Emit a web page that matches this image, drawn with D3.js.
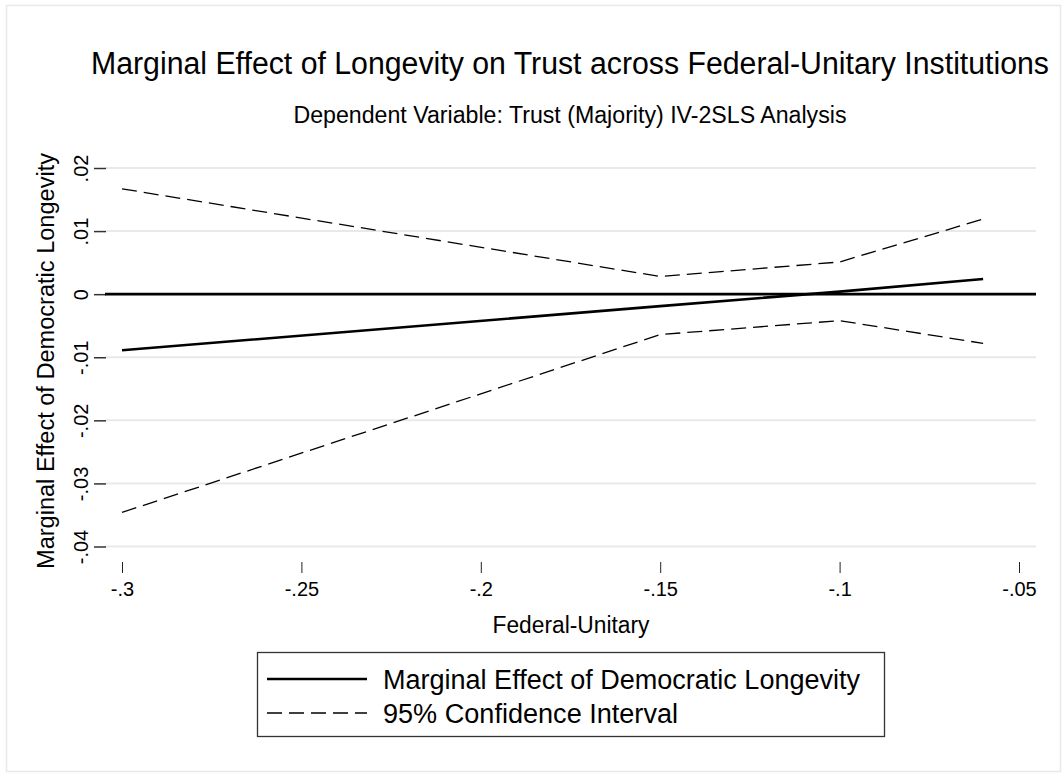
<!DOCTYPE html>
<html>
<head>
<meta charset="utf-8">
<script src="https://cdn.jsdelivr.net/npm/d3@7"></script>
<style>
  body { margin: 0; background: #fff; }
  svg text { font-family: "Liberation Sans Narrow", "Arial Narrow", "Liberation Sans", Arial, sans-serif; fill: #000; }
</style>
</head>
<body>
<div id="chart"></div>
<script>
// values
var fedUnitary = [-0.3, -0.15, -0.1, -0.06];
var marginalEffect = [-0.0089, -0.0019, 0.0004, 0.0024];
var ciUpper = [0.0167, 0.0028, 0.0051, 0.0119];
var ciLower = [-0.0346, -0.0064, -0.0042, -0.0078];

var xTicks = [-0.3, -0.25, -0.2, -0.15, -0.1, -0.05];
var xTickLabels = ["-.3", "-.25", "-.2", "-.15", "-.1", "-.05"];
var yTicks = [0.02, 0.01, 0, -0.01, -0.02, -0.03, -0.04];
var yTickLabels = [".02", ".01", "0", "-.01", "-.02", "-.03", "-.04"];

var legendLabels = ["Marginal Effect of Democratic Longevity", "95% Confidence Interval"];

var width = 1062, height = 773;

var svg = d3.select("#chart").append("svg")
  .attr("width", width)
  .attr("height", height);

// outer graph region frame
svg.append("rect")
  .attr("x", 6.5).attr("y", 5.5)
  .attr("width", 1054).attr("height", 766)
  .attr("fill", "#fff")
  .attr("stroke", "#e8e8e8")
  .attr("stroke-width", 1.5);

var xScale = d3.scaleLinear().domain([-0.3, -0.05]).range([122, 1019]);
var yScale = d3.scaleLinear().domain([-0.04, 0.02]).range([546.5, 168]);

var plotLeft = 105, plotRight = 1036;

// gridlines
svg.append("g").selectAll("line")
  .data(yTicks)
  .join("line")
    .attr("x1", plotLeft).attr("x2", plotRight)
    .attr("y1", function(d) { return yScale(d); })
    .attr("y2", function(d) { return yScale(d); })
    .attr("stroke", "#e9e9e9")
    .attr("stroke-width", 2);

// y axis (ticks + rotated labels)
var yAxis = d3.axisLeft(yScale)
  .tickValues(yTicks)
  .tickSize(12)
  .tickPadding(0)
  .tickFormat(function(d, i) { return yTickLabels[i]; });

var gy = svg.append("g")
  .attr("transform", "translate(106,0)")
  .call(yAxis);
gy.select(".domain").remove();
gy.selectAll(".tick line").attr("stroke", "#333").attr("stroke-width", 1.5);
gy.selectAll(".tick text")
  .attr("x", 0).attr("dy", null)
  .attr("transform", "translate(-23,0) rotate(-90)")
  .attr("text-anchor", "middle")
  .attr("dominant-baseline", "middle")
  .attr("font-size", 20)
  .style("font-size", "20px");

// x axis, offset below the plot region
var xAxis = d3.axisBottom(xScale)
  .tickValues(xTicks)
  .tickSize(11)
  .tickPadding(9)
  .tickFormat(function(d, i) { return xTickLabels[i]; });

var gx = svg.append("g")
  .attr("transform", "translate(0,562)")
  .call(xAxis);
gx.select(".domain").remove();
gx.selectAll(".tick line").attr("stroke", "#222").attr("stroke-width", 1);
gx.selectAll(".tick text")
  .attr("font-size", 20)
  .style("font-size", "20px");

// zero reference line
svg.append("line")
  .attr("x1", plotLeft).attr("x2", plotRight)
  .attr("y1", yScale(0)).attr("y2", yScale(0))
  .attr("stroke", "#000")
  .attr("stroke-width", 2.6);

var line = d3.line()
  .x(function(d) { return xScale(d[0]); })
  .y(function(d) { return yScale(d[1]); });

function pairs(ys) { return fedUnitary.map(function(x, i) { return [x, ys[i]]; }); }

// confidence bounds
[ciUpper, ciLower].forEach(function(s) {
  svg.append("path")
    .datum(pairs(s))
    .attr("fill", "none")
    .attr("stroke", "#000")
    .attr("stroke-width", 1.3)
    .attr("stroke-dasharray", "15,7")
    .attr("d", line);
});

// marginal effect
svg.append("path")
  .datum(pairs(marginalEffect))
  .attr("fill", "none")
  .attr("stroke", "#000")
  .attr("stroke-width", 2.6)
  .attr("d", line);

// titles
function label(x, y, txt, size, len, rot) {
  var t = svg.append("text")
    .attr("text-anchor", "middle")
    .attr("textLength", len).attr("lengthAdjust", "spacingAndGlyphs")
    .attr("font-size", size)
    .style("font-size", size + "px")
    .text(txt);
  if (rot) t.attr("transform", "translate(" + x + "," + y + ") rotate(-90)");
  else t.attr("x", x).attr("y", y);
  return t;
}

label(570, 74, "Marginal Effect of Longevity on Trust across Federal-Unitary Institutions", 31, 958);
label(570, 123, "Dependent Variable: Trust (Majority) IV-2SLS Analysis", 23, 553);
label(571, 633, "Federal-Unitary", 23, 157);
label(54, 361, "Marginal Effect of Democratic Longevity", 23, 416, true);

// legend
var legend = svg.append("g");
legend.append("rect")
  .attr("x", 257.5).attr("y", 652.5)
  .attr("width", 627).attr("height", 84)
  .attr("fill", "#fff")
  .attr("stroke", "#333")
  .attr("stroke-width", 1.3);

var legendY = [679, 713];
var legendDash = [null, "15,7"];
var legendWidth = [2.6, 1.3];
var legendTextLen = [477, 295];

legendLabels.forEach(function(lbl, i) {
  legend.append("line")
    .attr("x1", 267).attr("x2", 367)
    .attr("y1", legendY[i]).attr("y2", legendY[i])
    .attr("stroke", "#000")
    .attr("stroke-width", legendWidth[i])
    .attr("stroke-dasharray", legendDash[i]);
  legend.append("text")
    .attr("x", 383).attr("y", legendY[i])
    .attr("dy", "0.36em")
    .attr("textLength", legendTextLen[i]).attr("lengthAdjust", "spacingAndGlyphs")
    .attr("font-size", 27)
    .style("font-size", "27px")
    .text(lbl);
});
</script>
</body>
</html>
